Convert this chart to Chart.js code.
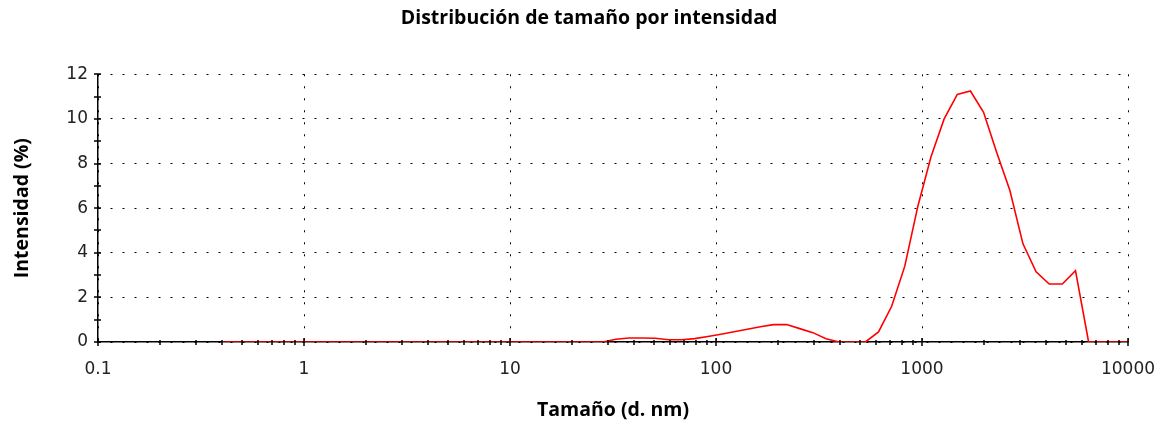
<!DOCTYPE html>
<html><head><meta charset="utf-8">
<script src="https://cdn.jsdelivr.net/npm/chart.js@4"></script>
<style>html,body{margin:0;padding:0;background:#fff;}</style>
</head><body>
<canvas id="c" width="1164" height="429"></canvas>
<script>
// Size bins (d. nm)
const sizes = [0.4, 0.4632, 0.5365, 0.6213, 0.7195, 0.8332, 0.9649, 1.117, 1.294, 1.499,
  1.736, 2.01, 2.328, 2.696, 3.122, 3.615, 4.187, 4.849, 5.615, 6.503,
  7.531, 8.721, 10.1, 11.7, 13.54, 15.69, 18.17, 21.04, 24.36, 28.21,
  32.67, 37.84, 43.82, 50.75, 58.77, 68.06, 78.82, 91.28, 105.7, 122.4,
  141.8, 164.2, 190.1, 220.2, 255.0, 295.3, 342.0, 396.1, 458.7, 531.2,
  615.1, 712.4, 825.0, 955.4, 1106, 1281, 1484, 1718, 1990, 2305,
  2669, 3091, 3580, 4145, 4801, 5560, 6439, 7456, 8635, 10000];
// Intensity (%)
const intensities = [0, 0, 0, 0, 0, 0, 0, 0, 0, 0,
  0, 0, 0, 0, 0, 0, 0, 0, 0, 0,
  0, 0, 0, 0, 0, 0, 0, 0, 0, 0,
  0.12, 0.18, 0.18, 0.17, 0.1, 0.1, 0.15, 0.25, 0.35, 0.46,
  0.57, 0.68, 0.78, 0.78, 0.6, 0.42, 0.15, 0, 0, 0,
  0.45, 1.6, 3.4, 6.1, 8.3, 10.0, 11.1, 11.25, 10.3, 8.5,
  6.8, 4.4, 3.15, 2.6, 2.6, 3.2, 0, 0, 0, 0];
// Tick labels
const xMajorTicks = [0.1, 1, 10, 100, 1000, 10000];
const xMajorLabels = ['0.1', '1', '10', '100', '1000', '10000'];
const xMinorMultipliers = [2, 3, 4, 5, 6, 7, 8, 9];
const yMajorTicks = [0, 2, 4, 6, 8, 10, 12];
const yMinorTicks = [1, 3, 5, 7, 9, 11];

const xMinorTicks = [];
xMajorTicks.slice(0, -1).forEach(m => xMinorMultipliers.forEach(k => xMinorTicks.push(+(m * k).toPrecision(6))));
const xAllTicks = xMajorTicks.concat(xMinorTicks).sort((a, b) => a - b);
const isMajorX = v => xMajorTicks.some(m => Math.abs(m - v) / m < 1e-6);
const labelX = v => { const i = xMajorTicks.findIndex(m => Math.abs(m - v) / m < 1e-6); return i >= 0 ? xMajorLabels[i] : ''; };

const tickMarks = {
  id: 'tickMarks',
  afterDatasetsDraw(chart) {
    const c = chart.ctx, xs = chart.scales.x, ys = chart.scales.y;
    const y0 = ys.getPixelForValue(0), x0 = xs.getPixelForValue(xMajorTicks[0]);
    c.save();
    c.strokeStyle = '#000';
    c.lineWidth = 1.5;
    c.beginPath();
    xAllTicks.forEach(v => {
      const px = Math.round(xs.getPixelForValue(v));
      if (isMajorX(v)) { c.moveTo(px, y0 - 4); c.lineTo(px, y0 + 4); }
      else { c.moveTo(px, y0 - 2); c.lineTo(px, y0 + 3); }
    });
    yMajorTicks.concat(yMinorTicks).forEach(v => {
      const py = Math.round(ys.getPixelForValue(v));
      c.moveTo(x0 - 4, py); c.lineTo(x0 + 3, py);
    });
    c.stroke();
    c.restore();
  }
};

const boldFont = { family: 'Open Sans', size: 19.5, weight: 'bold', lineHeight: 1.2 };

new Chart(document.getElementById('c'), {
  type: 'line',
  data: {
    datasets: [{
      data: sizes.map((s, i) => ({ x: s, y: intensities[i] })),
      borderColor: '#ff0000', borderWidth: 1.6, pointRadius: 0, tension: 0, fill: false
    }]
  },
  options: {
    responsive: false, animation: false, devicePixelRatio: 1,
    layout: { padding: { left: 50, right: 36, top: 0, bottom: 0 } },
    plugins: {
      legend: { display: false }, tooltip: { enabled: false },
      title: {
        display: true, text: 'Distribución de tamaño por intensidad', color: '#000',
        font: { family: 'Open Sans', size: 19.5, weight: 'bold', lineHeight: 1.2 },
        padding: { top: 6.5, bottom: 44.4 }
      }
    },
    scales: {
      x: {
        type: 'logarithmic', min: 0.1, max: 10000,
        afterBuildTicks: s => { s.ticks = xAllTicks.map(v => ({ value: v })); },
        afterFit: s => { s.height = 87; s.paddingLeft = 0; s.paddingRight = 0; },
        ticks: { autoSkip: false, maxRotation: 0, minRotation: 0, padding: 17, color: '#222',
          font: { family: 'DejaVu Sans', size: 17 }, callback: v => labelX(v) },
        grid: { color: c => (c.tick && isMajorX(c.tick.value)) ? '#000' : 'rgba(0,0,0,0)', drawTicks: false, lineWidth: 1 },
        border: { display: true, color: '#000', width: 1.5, dash: [2, 10] },
        title: { display: true, text: 'Tamaño (d. nm)', color: '#000', font: boldFont, padding: { top: 0, bottom: 7 } }
      },
      y: {
        min: 0, max: 12,
        afterBuildTicks: s => { s.ticks = yMajorTicks.map(v => ({ value: v })); },
        afterFit: s => { s.width = 48; },
        ticks: { padding: 10, color: '#222', font: { family: 'DejaVu Sans', size: 17 } },
        grid: { color: '#000', drawTicks: false, lineWidth: 1 },
        border: { display: true, color: '#000', width: 1.5, dash: [2, 10] },
        title: { display: true, text: 'Intensidad (%)', color: '#000', font: boldFont, padding: { top: -39.7, bottom: 0 } }
      }
    }
  },
  plugins: [tickMarks]
});
</script>
</body></html>
